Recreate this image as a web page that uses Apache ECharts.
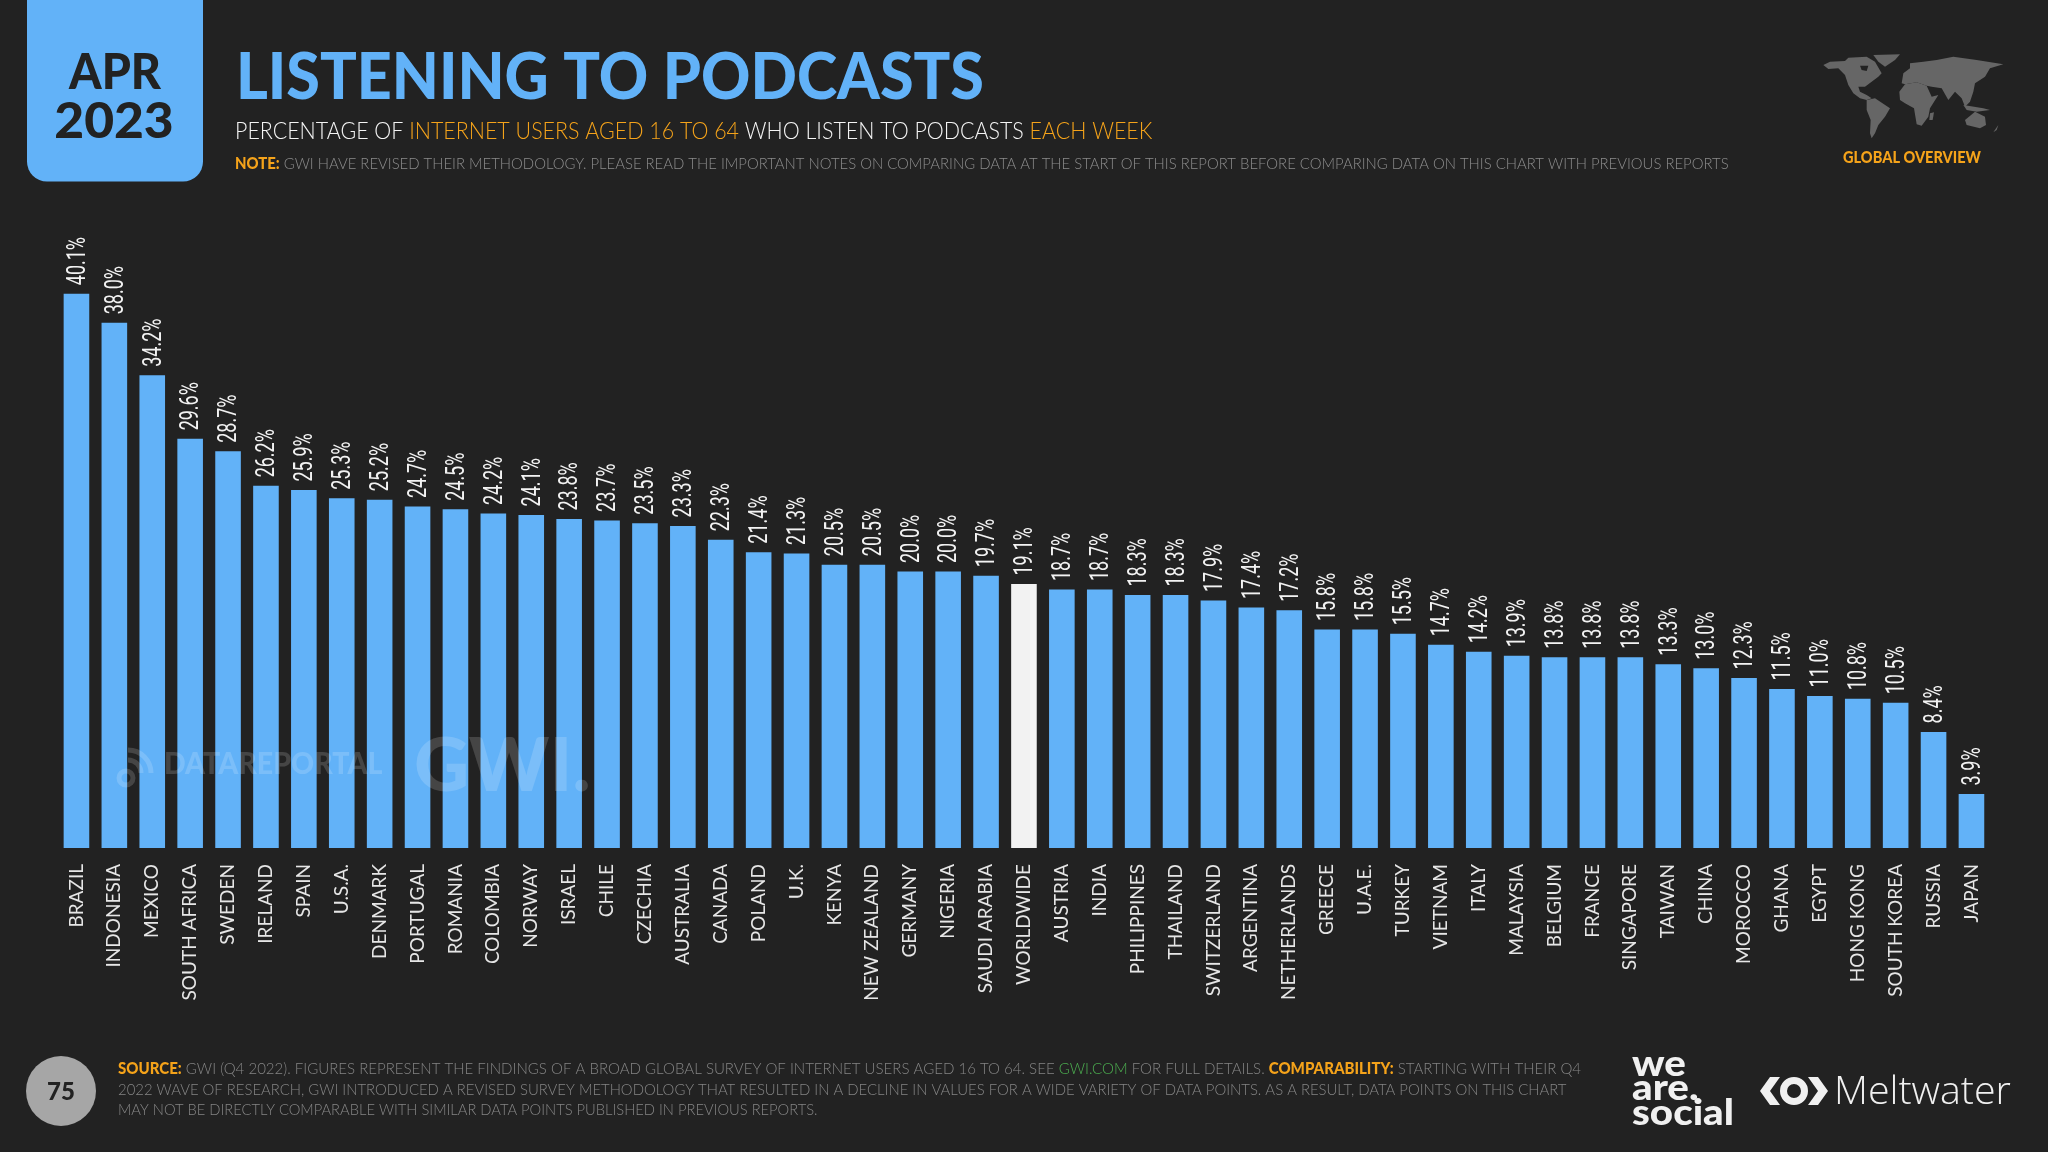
<!DOCTYPE html>
<html>
<head>
<meta charset="utf-8">
<title>Listening to podcasts</title>
<style>
html,body{margin:0;padding:0;background:#222222;}
#chart{width:2048px;height:1152px;}
</style>
<script src="https://cdn.jsdelivr.net/npm/echarts@6/dist/echarts.min.js"></script>
</head>
<body>
<div id="chart"></div>
<script>
var countries = ['BRAZIL','INDONESIA','MEXICO','SOUTH AFRICA','SWEDEN','IRELAND','SPAIN','U.S.A.','DENMARK','PORTUGAL','ROMANIA','COLOMBIA','NORWAY','ISRAEL','CHILE','CZECHIA','AUSTRALIA','CANADA','POLAND','U.K.','KENYA','NEW ZEALAND','GERMANY','NIGERIA','SAUDI ARABIA','WORLDWIDE','AUSTRIA','INDIA','PHILIPPINES','THAILAND','SWITZERLAND','ARGENTINA','NETHERLANDS','GREECE','U.A.E.','TURKEY','VIETNAM','ITALY','MALAYSIA','BELGIUM','FRANCE','SINGAPORE','TAIWAN','CHINA','MOROCCO','GHANA','EGYPT','HONG KONG','SOUTH KOREA','RUSSIA','JAPAN'];
var shares = [40.1,38.0,34.2,29.6,28.7,26.2,25.9,25.3,25.2,24.7,24.5,24.2,24.1,23.8,23.7,23.5,23.3,22.3,21.4,21.3,20.5,20.5,20.0,20.0,19.7,19.1,18.7,18.7,18.3,18.3,17.9,17.4,17.2,15.8,15.8,15.5,14.7,14.2,13.9,13.8,13.8,13.8,13.3,13.0,12.3,11.5,11.0,10.8,10.5,8.4,3.9];

var BLUE = '#62b2f8', ORANGE = '#f5a31a', GREY = '#858585', BG = '#222222';

// text helper for all the page furniture
function txt(text, x, y, sx, style){
  return {type:'text', x:x, y:y, scaleX:sx, z:20, style:Object.assign({text:text, fill:'#fff', verticalAlign:'middle'}, style)};
}
// map outlines traced at 3x, origin at the top left of the map box
function land(points, fill){
  return {type:'polygon', z:5, x:1810, y:45, scaleX:1/3, scaleY:1/3, shape:{points:points}, style:{fill:fill || '#666666'}};
}
function seg(sz, w, color){
  return {fontSize:sz, fontWeight:w, fontFamily:'Lato', fill:color};
}

var furniture = [
  // date badge
  {type:'rect', z:5, shape:{x:27, y:-30, width:176, height:211.5, r:20}, style:{fill:BLUE}},
  txt('APR', 115, 73, 0.93, {font:'900 50px Lato', fill:BG, align:'center'}),
  txt('2023', 114, 122, 1.03, {font:'900 50px Lato', fill:BG, align:'center'}),
  // title block
  txt('LISTENING TO PODCASTS', 236, 78, 0.953, {font:'900 64px Lato', fill:BLUE}),
  txt('{w|PERCENTAGE OF }{o|INTERNET USERS AGED 16 TO 64}{w| WHO LISTEN TO PODCASTS }{o|EACH WEEK}', 235, 132, 0.931, {
    rich:{w:seg(23,300,'#f4f4f4'), o:seg(23,300,ORANGE)}
  }),
  txt('{o|NOTE:}{g| GWI HAVE REVISED THEIR METHODOLOGY. PLEASE READ THE IMPORTANT NOTES ON COMPARING DATA AT THE START OF THIS REPORT BEFORE COMPARING DATA ON THIS CHART WITH PREVIOUS REPORTS}', 235, 163.5, 0.902, {
    rich:{o:seg(16.5,900,ORANGE), g:seg(16.5,300,'#8c8c8c')}
  }),
  txt('GLOBAL OVERVIEW', 1912, 158, 0.91, {font:'900 16px Lato', fill:ORANGE, align:'center'}),
  // world map, rough silhouettes
  land([[40,60],[60,50],[105,48],[115,38],[170,35],[195,50],[215,85],[205,95],[185,110],[165,125],[145,125],[150,140],[170,150],[185,160],[170,165],[150,160],[130,145],[115,120],[105,90],[85,70],[55,72]]),
  land([[190,30],[270,28],[255,45],[225,65],[205,50]]),
  land([[150,62],[175,62],[170,78],[155,75]], BG),
  land([[170,165],[195,160],[240,190],[225,215],[205,240],[195,265],[185,280],[180,265],[182,225],[170,195]]),
  land([[268,140],[285,118],[320,112],[350,122],[365,155],[385,150],[360,190],[355,215],[335,242],[320,238],[312,190],[285,175],[270,165]]),
  land([[360,205],[372,202],[368,225],[358,225]]),
  land([[275,115],[280,85],[300,70],[300,55],[340,50],[380,45],[430,35],[500,45],[580,58],[540,70],[525,95],[495,115],[490,140],[480,170],[465,185],[455,160],[435,140],[415,165],[395,130],[365,125],[350,122],[320,112],[285,118]]),
  land([[460,180],[520,190],[540,195],[500,200],[470,195]]),
  land([[465,225],[495,200],[525,215],[528,240],[510,250],[470,240]]),
  land([[550,262],[565,240],[560,255]]),
  // watermarks
  {type:'arc', z:15, shape:{cx:128, cy:773, r:13, startAngle:-Math.PI/2, endAngle:0}, style:{stroke:'#fff', lineWidth:5, fill:null, opacity:0.16}},
  {type:'arc', z:15, shape:{cx:128, cy:773, r:23, startAngle:-Math.PI/2, endAngle:0}, style:{stroke:'#fff', lineWidth:5, fill:null, opacity:0.16}},
  {type:'circle', z:15, shape:{cx:126, cy:778, r:7}, style:{stroke:'#fff', lineWidth:5, fill:null, opacity:0.16}},
  txt('DATAREPORTAL', 164, 764, 0.92, {font:'900 31px Lato', fill:'rgba(255,255,255,0.16)'}),
  txt('GWI.', 414, 767, 1.03, {font:'900 74px Lato', fill:'rgba(255,255,255,0.16)'}),
  // footer
  {type:'circle', z:5, shape:{cx:61, cy:1091, r:35}, style:{fill:'#a6a6a6'}},
  txt('75', 61, 1092, 1, {font:'900 24px Lato', fill:BG, align:'center'}),
  txt('{o|SOURCE:}{g| GWI (Q4 2022). FIGURES REPRESENT THE FINDINGS OF A BROAD GLOBAL SURVEY OF INTERNET USERS AGED 16 TO 64. SEE }{n|GWI.COM}{g| FOR FULL DETAILS. }{o|COMPARABILITY:}{g| STARTING WITH THEIR Q4}', 118, 1069, 0.94, {
    rich:{o:seg(16,900,ORANGE), g:seg(16,300,GREY), n:seg(16,300,'#4caf50')}
  }),
  txt('2022 WAVE OF RESEARCH, GWI INTRODUCED A REVISED SURVEY METHODOLOGY THAT RESULTED IN A DECLINE IN VALUES FOR A WIDE VARIETY OF DATA POINTS. AS A RESULT, DATA POINTS ON THIS CHART', 118, 1090, 0.93, {font:'300 16px Lato', fill:GREY}),
  txt('MAY NOT BE DIRECTLY COMPARABLE WITH SIMILAR DATA POINTS PUBLISHED IN PREVIOUS REPORTS.', 118, 1110, 0.92, {font:'300 16px Lato', fill:GREY}),
  // logos
  txt('we', 1632, 1064, 1.12, {font:'900 36px Lato', fill:'#f0f0f0'}),
  txt('are.', 1632, 1088, 1.12, {font:'900 36px Lato', fill:'#f0f0f0'}),
  txt('social', 1632, 1113, 1.12, {font:'900 36px Lato', fill:'#f0f0f0'}),
  {type:'polygon', z:20, shape:{points:[[1770,1077],[1780,1077],[1770,1091],[1780,1105],[1770,1105],[1760,1091]]}, style:{fill:'#f0f0f0'}},
  {type:'polygon', z:20, shape:{points:[[1818,1077],[1808,1077],[1818,1091],[1808,1105],[1818,1105],[1828,1091]]}, style:{fill:'#f0f0f0'}},
  {type:'circle', z:20, shape:{cx:1794, cy:1091, r:10.5}, style:{stroke:'#f0f0f0', lineWidth:7, fill:null}},
  txt('Meltwater', 1834, 1093, 1.035, {font:'300 38px "Open Sans"', fill:'#f0f0f0'})
];

var chart = echarts.init(document.getElementById('chart'));
chart.setOption({
  backgroundColor: BG,
  animation: false,
  grid: {left:57.5, width:1932.9, top:226, bottom:304},
  xAxis: {
    type:'category',
    data:countries,
    axisLine:{show:false},
    axisTick:{show:false},
    axisLabel:{interval:0, rotate:90, margin:16, color:'#e6e6e6', fontFamily:'Lato', fontSize:19}
  },
  yAxis: {type:'value', min:0, max:45, show:false},
  series: [{
    type:'bar',
    barWidth:25.6,
    data:shares.map(function(v, i){
      return {value:v, itemStyle:{color: countries[i] === 'WORLDWIDE' ? '#f2f2f2' : BLUE}};
    })
  },{
    // value labels, squeezed to the condensed look of the original
    type:'custom',
    silent:true,
    z:5,
    data:shares.map(function(v, i){ return [i, v]; }),
    encode:{x:0, y:1},
    renderItem:function(params, api){
      var p = api.coord([api.value(0), api.value(1)]);
      return {
        type:'text',
        x:p[0] + 2,
        y:p[1] - 8.5,
        rotation:Math.PI / 2,
        scaleX:0.72,
        style:{
          text:api.value(1).toFixed(1) + '%',
          font:'25px Roboto',
          fill:'#f2f2f2',
          align:'left',
          verticalAlign:'middle'
        }
      };
    }
  }],
  graphic: furniture
});
</script>
</body>
</html>
